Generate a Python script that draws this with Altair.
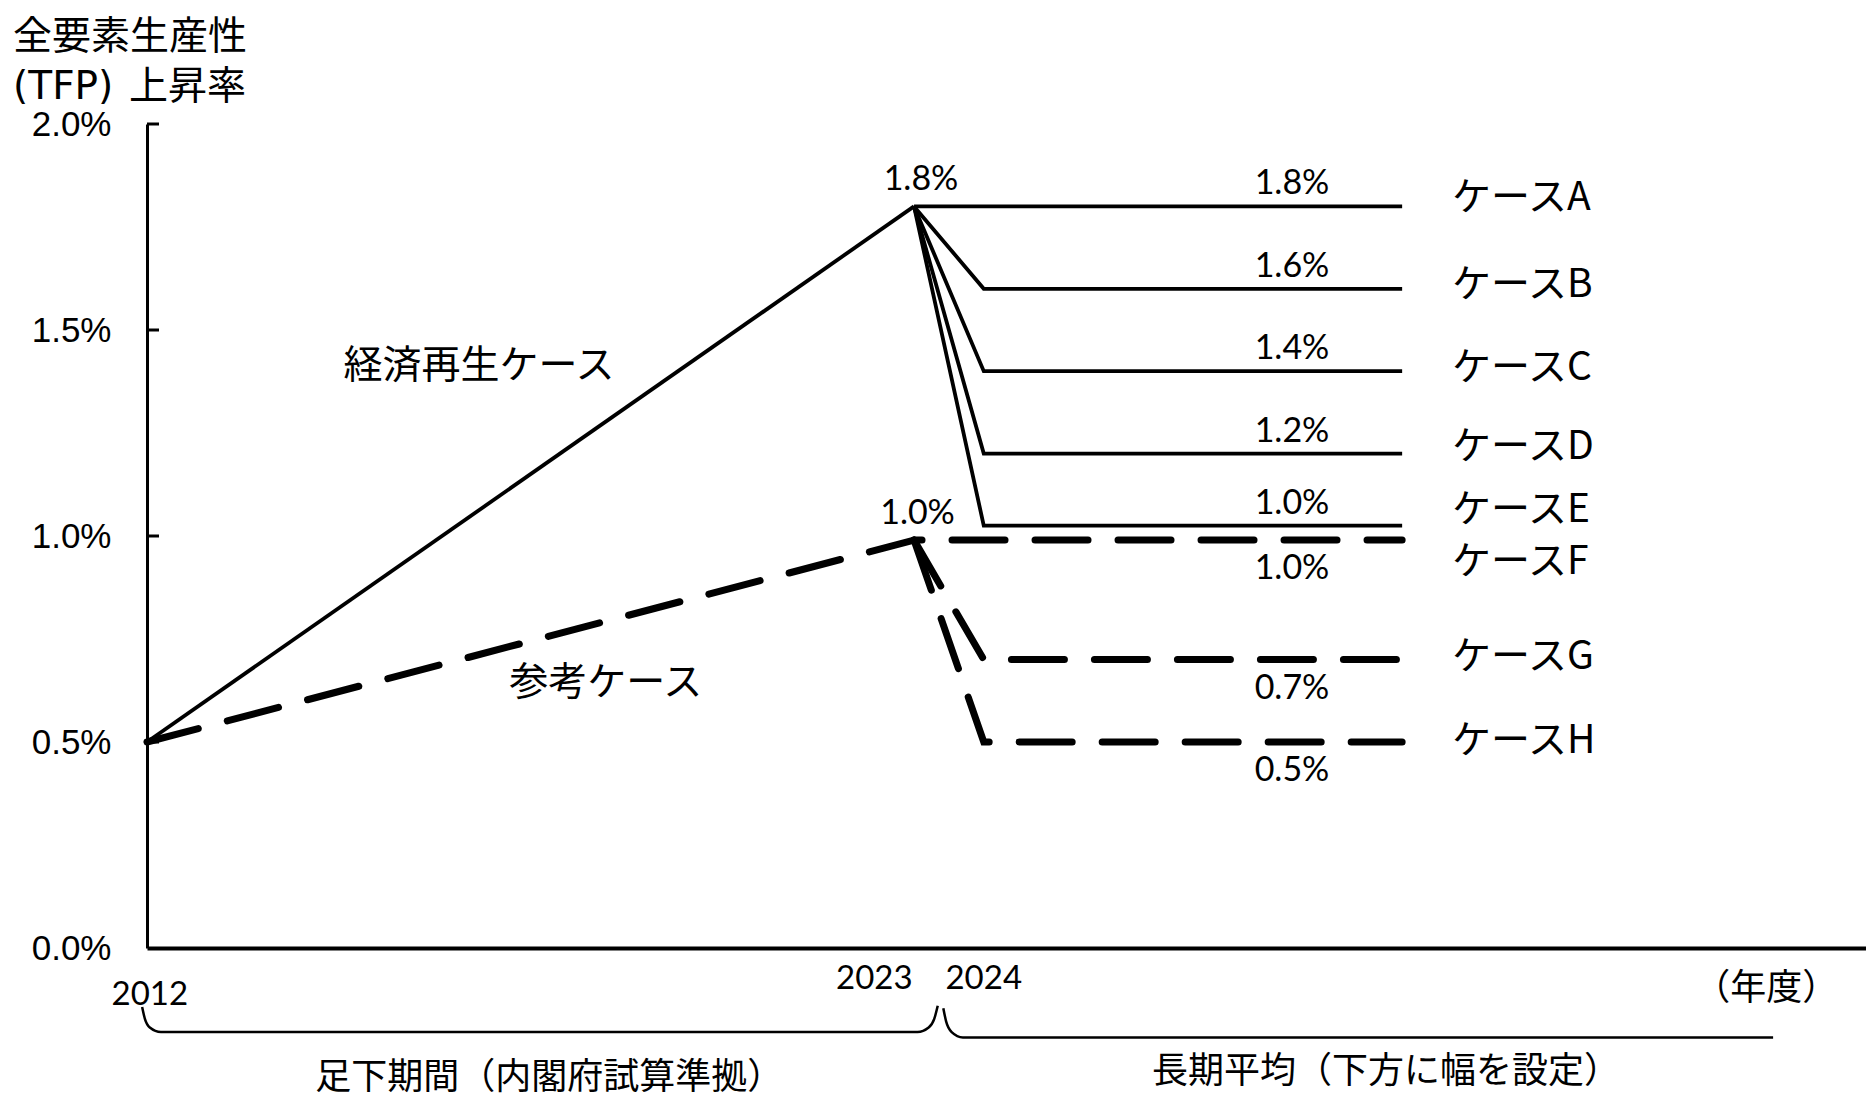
import altair as alt
import pandas as pd

# ---------------- data ----------------
start_year = 2012
peak_year = 2023
drop_year = 2024
end_year = 2030
start_value = 0.5
econ_peak = 1.8          # 経済再生ケース 2023
ref_peak = 0.99          # 参考ケース 2023 (drawn just below 1.0)
case_names = ["ケースA", "ケースB", "ケースC", "ケースD", "ケースE", "ケースF", "ケースG", "ケースH"]
case_levels = [1.8, 1.6, 1.4, 1.2, 1.025, 0.99, 0.70, 0.50]
case_labels = ["1.8%", "1.6%", "1.4%", "1.2%", "1.0%", "1.0%", "0.7%", "0.5%"]
case_base = ["econ", "econ", "econ", "econ", "econ", "ref", "ref", "ref"]
y_ticks = [0.0, 0.5, 1.0, 1.5, 2.0]
year_ticks = ["2012", "2023", "2024"]

PX_PER_PCT = 412.0
PX_PER_YEAR = 69.73

# ---------------- line table ----------------
rows = []
rows += [dict(s="econ", o=0, x=start_year, y=start_value, st="solid"),
         dict(s="econ", o=1, x=peak_year, y=econ_peak, st="solid")]
rows += [dict(s="ref", o=0, x=start_year, y=start_value, st="dash"),
         dict(s="ref", o=1, x=peak_year, y=ref_peak, st="dash")]
for name, lvl, base in zip(case_names, case_levels, case_base):
    if base == "econ":
        st = "solid"
    else:
        st = "dashflat" if lvl == ref_peak else "dash"
    pk = econ_peak if base == "econ" else ref_peak
    rows += [dict(s=name, o=0, x=peak_year, y=pk, st=st),
             dict(s=name, o=1, x=drop_year, y=lvl, st=st),
             dict(s=name, o=2, x=end_year, y=lvl, st=st)]
lines = pd.DataFrame(rows)

xs = alt.Scale(domain=[2012, 2012 + 1719 / PX_PER_YEAR], nice=False, zero=False)
ys = alt.Scale(domain=[0, 2.0], nice=False)

x_axis = alt.Axis(labels=False, ticks=False, grid=False, title=None,
                  domainColor="black", domainWidth=4)
y_axis = alt.Axis(values=y_ticks, labelExpr="format(datum.value,'.1f')+'%'",
                  labelFont="Liberation Sans", labelFontSize=35, labelColor="black",
                  ticks=False, labelPadding=36, grid=False, title=None,
                  domainColor="black", domainWidth=3)


def X(field="x"):
    return alt.X(f"{field}:Q", scale=xs, axis=x_axis)


def Y(field="y"):
    return alt.Y(f"{field}:Q", scale=ys, axis=y_axis)


solid = alt.Chart(lines[lines.st == "solid"]).mark_line(
    color="black", strokeWidth=3.8, strokeJoin="miter").encode(
    x=X(), y=Y(), detail="s:N", order="o:Q")

dashed = alt.Chart(lines[lines.st == "dash"]).mark_line(
    color="black", strokeWidth=7, strokeDash=[53, 30], strokeCap="round").encode(
    x=X(), y=Y(), detail="s:N", order="o:Q")

dashed_flat = alt.Chart(lines[lines.st == "dashflat"]).mark_line(
    color="black", strokeWidth=7, strokeDash=[53, 30], strokeDashOffset=45,
    strokeCap="round").encode(
    x=X(), y=Y(), detail="s:N", order="o:Q")

# inward tick marks on the y axis
tick_df = pd.DataFrame({"y": y_ticks[1:], "x": [2012] * 4, "x2": [2012 + 12 / PX_PER_YEAR] * 4})
ticks = alt.Chart(tick_df).mark_rule(color="black", strokeWidth=3).encode(
    x=X(), x2="x2:Q", y=Y())

# value labels by the lines
lab_x = 2012 + (1292 - 147) / PX_PER_YEAR
above = pd.DataFrame({"x": lab_x, "y": case_levels[:5], "t": case_labels[:5]})
below = pd.DataFrame({"x": lab_x, "y": case_levels[5:], "t": case_labels[5:]})
num_font = dict(font="Lato", fontSize=34, color="black", baseline="middle", align="center")
above_t = alt.Chart(above).mark_text(dy=-22, **num_font).encode(x=X(), y=Y(), text="t:N")
below_t = alt.Chart(below).mark_text(dy=29, **num_font).encode(x=X(), y=Y(), text="t:N")

# case names
name_dy = [-8, -4, -3, -7, -16, 22, -3, -1]
names = pd.DataFrame({"x": 2012 + (1452 - 147) / PX_PER_YEAR,
                      "y": [l - d / PX_PER_PCT for l, d in zip(case_levels, name_dy)],
                      "t": case_names})
jp = "Noto Sans CJK JP"
names_t = alt.Chart(names).mark_text(font=jp, fontSize=39, color="black", align="left",
                                     baseline="middle").encode(x=X(), y=Y(), text="t:N")

# peak labels
peaks = pd.DataFrame({"x": [peak_year + 0.1, peak_year + 0.05], "y": [econ_peak, ref_peak],
                      "t": ["1.8%", "1.0%"]})
peaks_t = alt.Chart(peaks).mark_text(dy=-26, **num_font).encode(x=X(), y=Y(), text="t:N")

# series names
series = pd.DataFrame({"x": [2016.76, 2018.58], "y": [1.413, 0.642], "t": ["経済再生ケース", "参考ケース"]})
series_t = alt.Chart(series).mark_text(font=jp, fontSize=39, color="black", align="center",
                                       baseline="middle").encode(x=X(), y=Y(), text="t:N")

# year labels under the axis
years_df = pd.DataFrame({"x": [2012.04, 2022.43, 2024.0], "y": [-0.114, -0.076, -0.076], "t": year_ticks})
years_t = alt.Chart(years_df).mark_text(font="Lato", fontSize=33, color="black", align="center",
                                        baseline="middle").encode(x=X(), y=Y(), text="t:N")

unit_df = pd.DataFrame({"x": [2035.22], "y": [-0.100], "t": ["（年度）"]})
unit_t = alt.Chart(unit_df).mark_text(font=jp, fontSize=36, color="black", align="center",
                                      baseline="middle").encode(x=X(), y=Y(), text="t:N")

period_df = pd.DataFrame({"x": [2017.77, 2029.77], "y": [-0.316, -0.300],
                          "t": ["足下期間（内閣府試算準拠）", "長期平均（下方に幅を設定）"]})
period_t = alt.Chart(period_df).mark_text(font=jp, fontSize=36, color="black", align="center",
                                          baseline="middle").encode(x=X(), y=Y(), text="t:N")

# axis title (two lines; the latin part set in a wider face)
title1 = pd.DataFrame({"x": [2010.08], "y": [2.210], "t": ["全要素生産性"]})
title1_t = alt.Chart(title1).mark_text(font=jp, fontSize=39, color="black", align="left",
                                       baseline="middle").encode(x=X(), y=Y(), text="t:N")
title2a = pd.DataFrame({"x": [2010.08], "y": [2.090], "t": ["(TFP)"]})
title2a_t = alt.Chart(title2a).mark_text(font="DejaVu Sans", fontSize=39, color="black", align="left",
                                         baseline="middle").encode(x=X(), y=Y(), text="t:N")
title2b = pd.DataFrame({"x": [2010.08 + 116 / PX_PER_YEAR], "y": [2.090], "t": ["上昇率"]})
title2b_t = alt.Chart(title2b).mark_text(font=jp, fontSize=39, color="black", align="left",
                                         baseline="middle").encode(x=X(), y=Y(), text="t:N")

# braces under the axis
brace_rows = []
b1 = [(2011.93, -0.143), (2011.97, -0.172), (2012.04, -0.193), (2012.2, -0.204),
      (2023.05, -0.204), (2023.21, -0.193), (2023.29, -0.172), (2023.34, -0.140)]
b2 = [(2023.42, -0.146), (2023.46, -0.178), (2023.54, -0.204), (2023.7, -0.217),
      (2035.32, -0.217)]
for i, (bx, by) in enumerate(b1):
    brace_rows.append(dict(s="b1", o=i, x=bx, y=by))
for i, (bx, by) in enumerate(b2):
    brace_rows.append(dict(s="b2", o=i, x=bx, y=by))
braces = alt.Chart(pd.DataFrame(brace_rows)).mark_line(
    color="black", strokeWidth=2.5, interpolate="monotone").encode(
    x=X(), y=Y(), detail="s:N", order="o:Q")

chart = alt.layer(solid, dashed, dashed_flat, ticks, braces, above_t, below_t, names_t,
                  peaks_t, series_t, years_t, unit_t, period_t,
                  title1_t, title2a_t, title2b_t).properties(
    width=1719, height=824,
    autosize=alt.AutoSizeParams(type="none"),
    padding={"left": 139, "top": 116, "right": 0, "bottom": 152},
    background="white",
).configure_view(stroke=None)

chart.save("out.html", embed_options={"renderer": "svg", "actions": False})
